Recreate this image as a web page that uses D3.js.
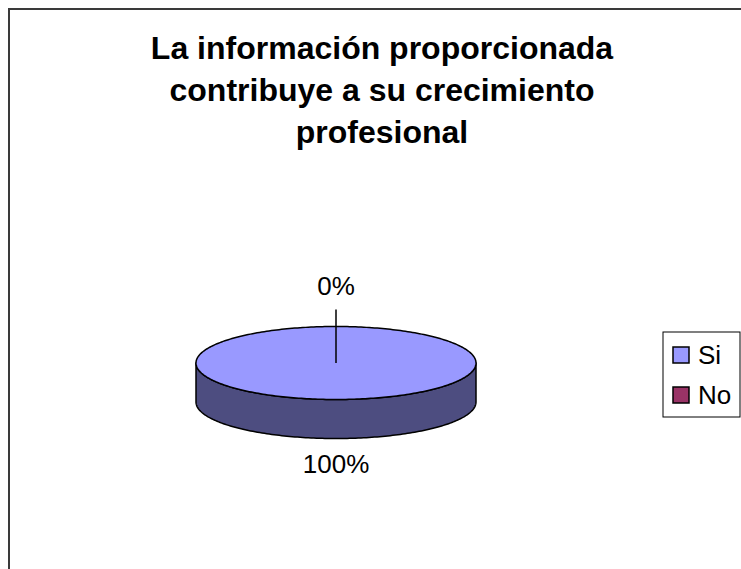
<!DOCTYPE html>
<html>
<head>
<meta charset="utf-8">
<script src="https://cdn.jsdelivr.net/npm/d3@7"></script>
<style>
  html, body { margin: 0; padding: 0; background: #ffffff; }
  svg { display: block; font-family: "Liberation Sans", Arial, sans-serif; }
</style>
</head>
<body>
<svg id="chart" width="741" height="569"></svg>
<script>
// ---- data ----
const titleLines = ["La información proporcionada", "contribuye a su crecimiento", "profesional"];
const categories = ["Si", "No"];
const values = [100, 0];
const topColors = ["#9999FF", "#993366"];
const sideColors = ["#4D4D80", "#4D1A33"];

const svg = d3.select("#chart");
const W = 741, H = 569;

// chart frame (extends past right/bottom edge)
svg.append("rect")
  .attr("x", 9).attr("y", 9)
  .attr("width", W + 20).attr("height", H + 20)
  .attr("fill", "#ffffff")
  .attr("stroke", "#3a3a3a").attr("stroke-width", 2);

// title
const title = svg.append("text")
  .attr("text-anchor", "middle")
  .attr("font-size", 32).attr("font-weight", "bold").attr("fill", "#000");
titleLines.forEach((t, i) => {
  title.append("tspan").attr("x", 382).attr("y", 59 + i * 42).text(t);
});

// 3D pie
const cx = 336, cy = 363, rx = 140, ry = 36.5, depth = 39;
const pie = d3.pie().sort(null).value(d => d)(values);
const total = d3.sum(values);
const fmt = v => Math.round(v / total * 100) + "%";

const ex = a => cx + rx * Math.sin(a);
const ey = a => cy - ry * Math.cos(a);

function arcPoints(a0, a1, dy) {
  const n = Math.max(2, Math.ceil(Math.abs(a1 - a0) / 0.02));
  return d3.range(n + 1).map(i => {
    const a = a0 + (a1 - a0) * i / n;
    return [ex(a), ey(a) + dy];
  });
}

const g = svg.append("g");

// sides (front-facing part: angles between PI/2 and 3PI/2)
pie.forEach((s, i) => {
  const a0 = Math.max(s.startAngle, Math.PI / 2);
  const a1 = Math.min(s.endAngle, 3 * Math.PI / 2);
  if (a1 <= a0) return;
  const top = arcPoints(a0, a1, 0);
  const bot = arcPoints(a1, a0, depth);
  g.append("path")
    .attr("d", d3.line()(top.concat(bot)) + "Z")
    .attr("fill", sideColors[i])
    .attr("stroke", "#000").attr("stroke-width", 1.5).attr("stroke-linejoin", "round");
});

// tops
pie.forEach((s, i) => {
  if (s.endAngle - s.startAngle <= 0) return;
  const full = s.endAngle - s.startAngle >= 2 * Math.PI - 1e-9;
  const pts = arcPoints(s.startAngle, s.endAngle, 0);
  const d = full ? d3.line()(pts) + "Z" : "M" + cx + "," + cy + "L" + d3.line()(pts).slice(1) + "Z";
  g.append("path")
    .attr("d", d)
    .attr("fill", topColors[i])
    .attr("stroke", "#000").attr("stroke-width", 1.5).attr("stroke-linejoin", "round");
});

// labels
pie.forEach((s, i) => {
  const mid = (s.startAngle + s.endAngle) / 2;
  const label = fmt(s.data);
  const front = Math.cos(mid) < 0;
  if (s.endAngle - s.startAngle <= 0) {
    // zero slice: leader line from centre outward
    const lx = cx + (rx + 17) * Math.sin(mid) * 0;
    const ly = ey(mid) - 17;
    g.append("line")
      .attr("x1", cx).attr("y1", cy)
      .attr("x2", ex(mid)).attr("y2", ly)
      .attr("stroke", "#000").attr("stroke-width", 1.5);
    g.append("text")
      .attr("x", ex(mid)).attr("y", ly - 15)
      .attr("text-anchor", "middle").attr("font-size", 26).attr("fill", "#000")
      .text(label);
  } else {
    const bx = ex(mid);
    const by = ey(mid) + (front ? depth : 0);
    g.append("text")
      .attr("x", bx).attr("y", by + 34)
      .attr("text-anchor", "middle").attr("font-size", 26).attr("fill", "#000")
      .text(label);
  }
});

// legend
const lg = svg.append("g");
lg.append("rect")
  .attr("x", 663).attr("y", 332).attr("width", 77).attr("height", 85)
  .attr("fill", "#fff").attr("stroke", "#000").attr("stroke-width", 1);
const ly = d3.scalePoint().domain(categories).range([355, 395]);
categories.forEach((c, i) => {
  lg.append("rect")
    .attr("x", 673).attr("y", ly(c) - 8).attr("width", 16).attr("height", 16)
    .attr("fill", topColors[i]).attr("stroke", "#000").attr("stroke-width", 1.5);
  lg.append("text")
    .attr("x", 698).attr("y", ly(c) + 9)
    .attr("font-size", 26).attr("fill", "#000")
    .text(c);
});
</script>
</body>
</html>
